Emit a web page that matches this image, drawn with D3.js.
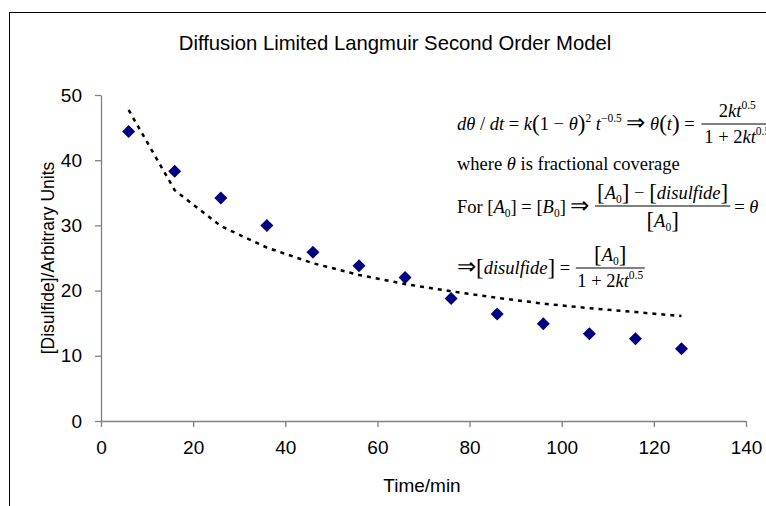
<!DOCTYPE html>
<html><head><meta charset="utf-8">
<script src="https://cdn.jsdelivr.net/npm/d3@7"></script>
<style>body{margin:0;background:#fff}svg{display:block}</style>
</head><body>
<svg id="c" width="766" height="506"></svg>
<script>
// ---- data ----
const times = [6, 16, 26, 36, 46, 56, 66, 76, 86, 96, 106, 116, 126];
const measured = [44.4, 38.3, 34.2, 30.0, 25.9, 23.8, 22.0, 18.8, 16.4, 14.9, 13.4, 12.6, 11.1];
const fitted = [47.7, 35.4, 29.9, 26.6, 24.2, 22.4, 21.0, 19.9, 18.9, 18.0, 17.3, 16.7, 16.1];
const xTicks = [0, 20, 40, 60, 80, 100, 120, 140];
const yTicks = [0, 10, 20, 30, 40, 50];
const title = "Diffusion Limited Langmuir Second Order Model";
const xLabel = "Time/min";
const yLabel = "[Disulfide]/Arbitrary Units";

const svg = d3.select("#c");
const W = 766, H = 506;
svg.append("rect").attr("width", W).attr("height", H).attr("fill", "#fff");
// chart area border
svg.append("rect").attr("x", 9.5).attr("y", 12.5).attr("width", 1000).attr("height", 1000)
  .attr("fill", "none").attr("stroke", "#000").attr("stroke-width", 1);

const x = d3.scaleLinear().domain([0, 140]).range([101, 746]);
const y = d3.scaleLinear().domain([0, 50]).range([421, 95]);

const sans = "Liberation Sans, Arial, sans-serif";
const serif = "Liberation Serif, Times New Roman, serif";

svg.append("text").attr("x", 395).attr("y", 50).attr("text-anchor", "middle")
  .attr("font-family", sans).attr("font-size", 20.3).text(title);

const gx = svg.append("g").attr("transform", `translate(0,${y(0)})`)
  .call(d3.axisBottom(x).tickValues(xTicks).tickSize(6).tickSizeOuter(0).tickPadding(14));
const gy = svg.append("g").attr("transform", `translate(${x(0)},0)`)
  .call(d3.axisLeft(y).tickValues(yTicks).tickSize(6).tickSizeOuter(0).tickPadding(13));
[gx, gy].forEach(g => {
  g.selectAll("path,line").attr("stroke", "#808080").attr("stroke-width", 1.3);
  g.selectAll("text").attr("font-family", sans).attr("font-size", 19).attr("fill", "#000");
});

svg.append("text").attr("x", 422).attr("y", 492).attr("text-anchor", "middle")
  .attr("font-family", sans).attr("font-size", 19).text(xLabel);
svg.append("text").attr("transform", "translate(54,258) rotate(-90)").attr("text-anchor", "middle")
  .attr("font-family", sans).attr("font-size", 17.5).text(yLabel);

// fitted dotted line
const line = d3.line().x((d, i) => x(times[i])).y(d => y(d));
svg.append("path").datum(fitted).attr("d", line).attr("fill", "none")
  .attr("stroke", "#000").attr("stroke-width", 2.5).attr("stroke-dasharray", "4,5");

// measured diamonds
svg.append("g").selectAll("path").data(measured).join("path")
  .attr("transform", (d, i) => `translate(${x(times[i])},${y(d)})`)
  .attr("d", "M0,-6.5L6.5,0L0,6.5L-6.5,0Z").attr("fill", "#000080");

// ---- equations ----
const FS = 18.5;
const eq = svg.append("g").attr("font-family", serif).attr("fill", "#000");
function run(px, py, parts, anchor) {
  const t = eq.append("text").attr("x", px).attr("y", py).attr("font-size", FS)
    .attr("text-anchor", anchor || "start").attr("xml:space", "preserve");
  let cur = 0;
  parts.forEach(p => {
    let shift = 0, fs = FS;
    if (p.sup) { shift = -8; fs = 11.5; }
    if (p.sub) { shift = 4; fs = 11.5; }
    if (p.big) { fs = 23; shift = 1; }
    if (p.arr) { fs = 23; shift = 0; }
    const ts = t.append("tspan").attr("dy", shift - cur).attr("font-size", fs).text(p.s);
    if (p.it) ts.attr("font-style", "italic");
    cur = shift;
  });
  return t;
}
function endX(t, px) { return px + t.node().getComputedTextLength(); }
const I = s => ({ s, it: true }), N = s => ({ s }), SUP = s => ({ s, sup: true }),
      SUB = s => ({ s, sub: true }), B = s => ({ s, big: true }), A = s => ({ s, arr: true });

function fraction(x0, barY, num, den, extra, numUp, denDown) {
  const w = Math.max(widthOf(num), widthOf(den)) + extra;
  eq.append("line").attr("x1", x0).attr("x2", x0 + w).attr("y1", barY).attr("y2", barY)
    .attr("stroke", "#000").attr("stroke-width", 1);
  run(x0 + w / 2, barY - numUp, num, "middle");
  run(x0 + w / 2, barY + denDown, den, "middle");
  return x0 + w;
}
function widthOf(parts) {
  const t = run(0, -100, parts);
  const w = t.node().getComputedTextLength();
  t.remove();
  return w;
}

// line 1
const l1 = run(457, 130, [I("d"), I("θ"), N(" / "), I("d"), I("t"), N(" = "), I("k"), B("("), N("1 − "), I("θ"), B(")"), SUP("2"), N(" "), I("t"), SUP("−0.5"), N(" "), A("⇒"), N(" "), I("θ"), B("("), I("t"), B(")"), N(" = ")]);
fraction(endX(l1, 457) + 2, 124,
  [N("2"), I("kt"), SUP("0.5")],
  [N("1 + 2"), I("kt"), SUP("0.5")], 6, 7, 19);

// line 2
run(457, 170, [N("where "), I("θ"), N(" is fractional coverage")]);

// line 3
const l3 = run(457, 213, [N("For ["), I("A"), SUB("0"), N("] = ["), I("B"), SUB("0"), N("] "), A("⇒"), N(" ")]);
const e3 = fraction(endX(l3, 457) + 1, 206,
  [B("["), I("A"), SUB("0"), B("]"), N(" − "), B("["), I("disulfide"), B("]")],
  [B("["), I("A"), SUB("0"), B("]")], 4, 7, 21);
run(e3 + 4, 213, [N("= "), I("θ")]);

// line 4
const l4 = run(457, 274, [A("⇒"), B("["), I("disulfide"), B("]"), N(" = ")]);
fraction(endX(l4, 457) + 1, 268,
  [B("["), I("A"), SUB("0"), B("]")],
  [N("1 + 2"), I("kt"), SUP("0.5")], 3, 7, 19);
</script>
</body></html>
